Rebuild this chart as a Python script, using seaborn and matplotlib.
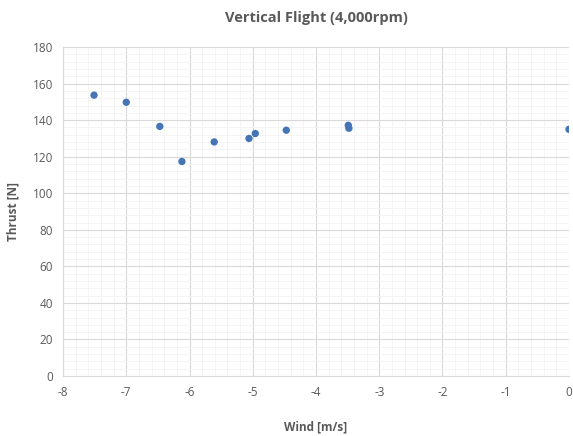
import matplotlib
matplotlib.use('Agg')
import matplotlib.pyplot as plt
import seaborn as sns
import pandas as pd
from matplotlib.ticker import MultipleLocator

# values
wind = [-7.51, -7.00, -6.47, -6.12, -5.61, -5.06, -4.96, -4.47, -3.49, -3.48, 0.0]
thrust = [153.7, 149.8, 136.6, 117.4, 128.1, 130.0, 132.7, 134.5, 137.2, 135.6, 135.0]

x_ticks = list(range(-8, 1))
y_ticks = list(range(0, 181, 20))

df = pd.DataFrame({'Wind': wind, 'Thrust': thrust})

sns.set_style('white')
plt.rcParams['font.family'] = ['Open Sans', 'DejaVu Sans']
plt.rcParams['axes.unicode_minus'] = False

fig, ax = plt.subplots(figsize=(5.73, 4.36), dpi=100)
fig.subplots_adjust(left=0.110, right=0.993, bottom=0.1376, top=0.892)

sns.scatterplot(data=df, x='Wind', y='Thrust', ax=ax, color='#4675b5',
                s=28, edgecolor='none', zorder=3)

ax.set_xlim(-8, 0)
ax.set_ylim(0, 180)
ax.set_xticks(x_ticks)
ax.set_yticks(y_ticks)
ax.xaxis.set_minor_locator(MultipleLocator(0.2))
ax.yaxis.set_minor_locator(MultipleLocator(4))
ax.grid(which='major', color='#d9d9d9', linewidth=0.8)
ax.grid(which='minor', color='#f2f2f2', linewidth=0.6)
ax.set_axisbelow(True)

for side in ['top', 'right']:
    ax.spines[side].set_visible(False)
for side in ['left', 'bottom']:
    ax.spines[side].set_color('#d9d9d9')
    ax.spines[side].set_linewidth(0.8)

ax.tick_params(axis='both', which='both', length=0, labelsize=8.5, labelcolor='#595959', pad=7)

ax.set_title('Vertical Flight (4,000rpm)', fontsize=10.5, fontweight='bold',
             color='#595959', pad=18)
ax.set_xlabel('Wind [m/s]', fontsize=8.5, fontweight='bold', color='#595959', labelpad=16)
ax.set_ylabel('Thrust [N]', fontsize=8.5, fontweight='bold', color='#595959', labelpad=10)

fig.savefig('out.png', dpi=100)
